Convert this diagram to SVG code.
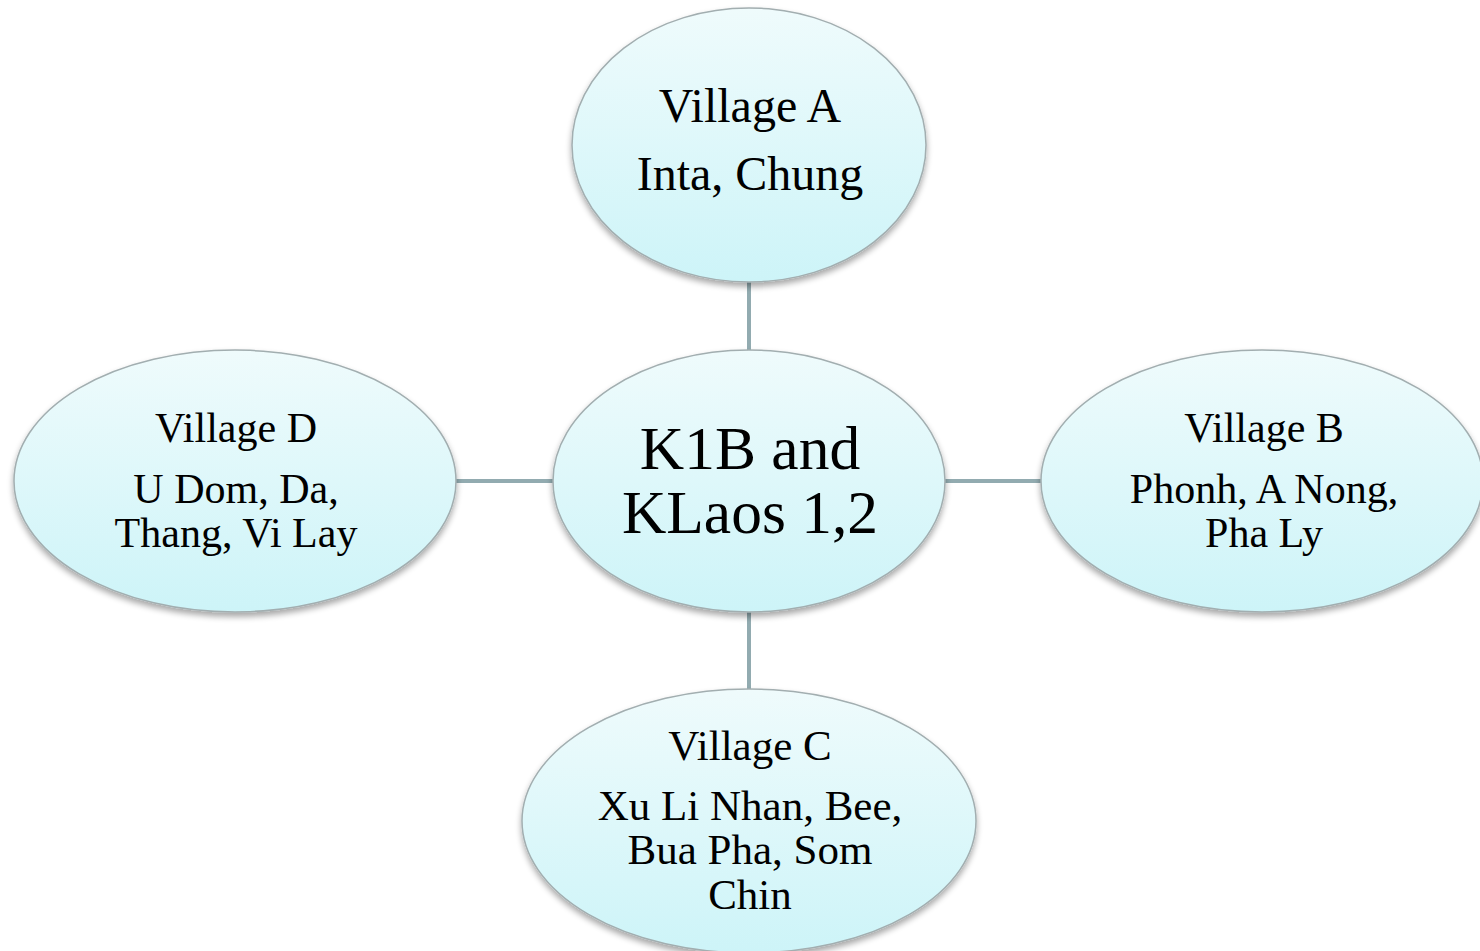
<svg xmlns="http://www.w3.org/2000/svg" width="1480" height="951" viewBox="0 0 1480 951">
<defs>
<linearGradient id="g" x1="0" y1="0" x2="0" y2="1">
<stop offset="0" stop-color="#effbfc"/>
<stop offset="1" stop-color="#cdf4f8"/>
</linearGradient>
<filter id="sh" x="-10%" y="-10%" width="120%" height="130%">
<feGaussianBlur in="SourceAlpha" stdDeviation="3"/>
<feOffset dx="0" dy="4" result="b"/>
<feComponentTransfer><feFuncA type="linear" slope="0.35"/></feComponentTransfer>
<feMerge><feMergeNode/><feMergeNode in="SourceGraphic"/></feMerge>
</filter>
</defs>
<style>
.n{fill:url(#g);stroke:#a2aeb0;stroke-width:1.5;filter:url(#sh)}
.c{stroke:#92abb0;stroke-width:4;fill:none}
text{font-family:"Liberation Serif","Times New Roman",serif;fill:#000;text-anchor:middle}
</style>
<rect width="1480" height="951" fill="#fff"/>
<g id="connectors">
<line class="c" x1="749" y1="280" x2="749" y2="352"/>
<line class="c" x1="749" y1="610" x2="749" y2="690"/>
<line class="c" x1="454" y1="481" x2="556" y2="481"/>
<line class="c" x1="942" y1="481" x2="1042" y2="481"/>
</g>
<g id="villageA">
<ellipse class="n" cx="749" cy="145" rx="177" ry="137"/>
<text x="750" y="122" font-size="48">Village A</text>
<text x="750" y="190" font-size="48">Inta, Chung</text>
</g>
<g id="center">
<ellipse class="n" cx="749" cy="481" rx="196" ry="131"/>
<text x="750" y="469" font-size="61.5">K1B and</text>
<text x="750" y="533" font-size="61.5">KLaos 1,2</text>
</g>
<g id="villageB">
<ellipse class="n" cx="1262" cy="481" rx="221" ry="131"/>
<text x="1264" y="442" font-size="42">Village B</text>
<text x="1264" y="503" font-size="42">Phonh, A Nong,</text>
<text x="1264" y="547" font-size="42">Pha Ly</text>
</g>
<g id="villageD">
<ellipse class="n" cx="235" cy="481" rx="221" ry="131"/>
<text x="236" y="442" font-size="42">Village D</text>
<text x="236" y="503" font-size="42">U Dom, Da,</text>
<text x="236" y="547" font-size="42">Thang, Vi Lay</text>
</g>
<g id="villageC">
<ellipse class="n" cx="749" cy="821" rx="227" ry="132"/>
<text x="750" y="760" font-size="43">Village C</text>
<text x="750" y="820" font-size="43">Xu Li Nhan, Bee,</text>
<text x="750" y="864" font-size="43">Bua Pha, Som</text>
<text x="750" y="909" font-size="43">Chin</text>
</g>
</svg>
